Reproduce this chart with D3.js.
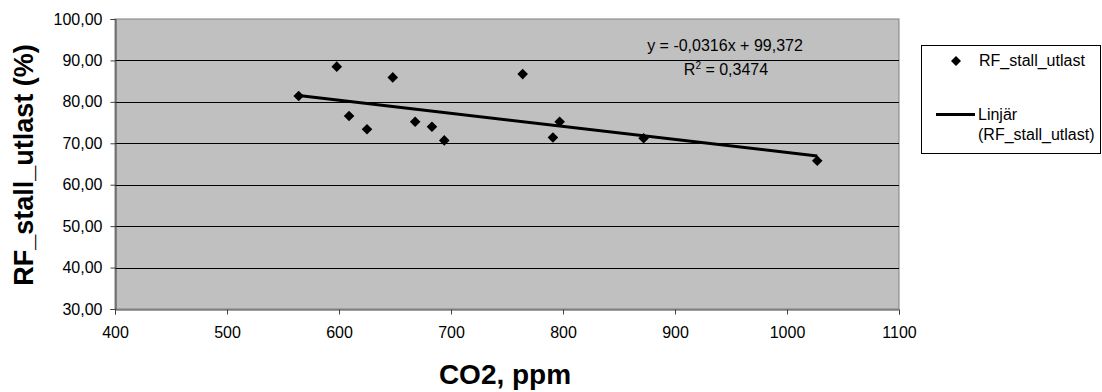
<!DOCTYPE html>
<html>
<head>
<meta charset="utf-8">
<script src="https://cdn.jsdelivr.net/npm/d3@7"></script>
<style>
  html, body { margin: 0; padding: 0; background: #fff; }
  svg { display: block; font-family: "Liberation Sans", Arial, sans-serif; }
</style>
</head>
<body>
<svg id="chart" width="1102" height="392"></svg>
<script>
// Data
const co2 = [564, 598, 609, 625, 648, 668, 683, 694, 764, 791, 797, 872, 1027];
const rf  = [81.4, 88.5, 76.6, 73.4, 85.9, 75.2, 74.0, 70.7, 86.7, 71.4, 75.2, 71.2, 65.8];
const xTicks = [400, 500, 600, 700, 800, 900, 1000, 1100];
const yTicks = [30, 40, 50, 60, 70, 80, 90, 100];
const trendSlope = -0.0316;
const trendIntercept = 99.372;
const eqText = "y = -0,0316x + 99,372";
const r2Value = "0,3474";
const seriesName = "RF_stall_utlast";
const trendName1 = "Linjär";
const trendName2 = "(RF_stall_utlast)";
const xTitle = "CO2, ppm";
const yTitle = "RF_stall_utlast (%)";

const svg = d3.select("#chart");
const L = 115, R = 899, T = 19, B = 309;

const x = d3.scaleLinear().domain([400, 1100]).range([L, R]);
const y = d3.scaleLinear().domain([30, 100]).range([B, T]);

// plot background
svg.append("rect").attr("x", L).attr("y", T).attr("width", R - L).attr("height", B - T)
  .attr("fill", "#c0c0c0").attr("stroke", "#808080").attr("stroke-width", 1);

// gridlines
svg.append("g").selectAll("line").data(yTicks.filter(d => d > 30 && d < 100)).join("line")
  .attr("x1", L).attr("x2", R)
  .attr("y1", d => Math.round(y(d)) + 0.5).attr("y2", d => Math.round(y(d)) + 0.5)
  .attr("stroke", "#000").attr("stroke-width", 1);

// axes
const fmt = d => d3.format(".2f")(d).replace(".", ",");
const yAxis = svg.append("g").attr("transform", `translate(${L + 0.5},0)`)
  .call(d3.axisLeft(y).tickValues(yTicks).tickFormat(fmt).tickSize(5).tickPadding(8));
const xAxis = svg.append("g").attr("transform", `translate(0,${B + 0.5})`)
  .call(d3.axisBottom(x).tickValues(xTicks).tickFormat(d3.format("d")).tickSize(5).tickPadding(12));
[yAxis, xAxis].forEach(a => {
  a.select(".domain").attr("stroke", "#404040");
  a.selectAll(".tick line").attr("stroke", "#404040");
  a.selectAll(".tick text").attr("fill", "#000").style("font-size", "16px")
    .style("font-family", '"Liberation Sans", Arial, sans-serif');
});

// trend line
const xMin = d3.min(co2), xMax = d3.max(co2);
svg.append("line")
  .attr("x1", x(xMin)).attr("y1", y(trendSlope * xMin + trendIntercept))
  .attr("x2", x(xMax)).attr("y2", y(trendSlope * xMax + trendIntercept))
  .attr("stroke", "#000").attr("stroke-width", 3);

// points
const diamond = (cx, cy, r) => `M${cx},${cy - r}L${cx + r},${cy}L${cx},${cy + r}L${cx - r},${cy}Z`;
svg.append("g").selectAll("path").data(co2.map((c, i) => [c, rf[i]])).join("path")
  .attr("d", d => diamond(x(d[0]), y(d[1]), 5.3))
  .attr("fill", "#000");

// equation
svg.append("text").attr("x", 725).attr("y", 51).attr("text-anchor", "middle")
  .style("font-size", "16px").text(eqText);
const r2 = svg.append("text").attr("x", 726).attr("y", 75).attr("text-anchor", "middle")
  .style("font-size", "16px");
r2.append("tspan").text("R");
r2.append("tspan").attr("dy", -6).style("font-size", "10px").text("2");
r2.append("tspan").attr("dy", 6).text(" = " + r2Value);

// axis titles
svg.append("text").attr("x", 505).attr("y", 384).attr("text-anchor", "middle")
  .style("font-size", "28px").style("font-weight", "bold").text(xTitle);
svg.append("text").attr("transform", "translate(33,165) rotate(-90)").attr("text-anchor", "middle")
  .style("font-size", "27px").style("font-weight", "bold").text(yTitle);

// legend
svg.append("rect").attr("x", 921.5).attr("y", 45.5).attr("width", 179).attr("height", 108)
  .attr("fill", "#fff").attr("stroke", "#000").attr("stroke-width", 1);
svg.append("path").attr("d", diamond(956, 61, 5)).attr("fill", "#000");
svg.append("text").attr("x", 979).attr("y", 66).style("font-size", "16px").text(seriesName);
svg.append("line").attr("x1", 936).attr("x2", 975).attr("y1", 114.5).attr("y2", 114.5)
  .attr("stroke", "#000").attr("stroke-width", 3);
svg.append("text").attr("x", 978).attr("y", 120).style("font-size", "16px").text(trendName1);
svg.append("text").attr("x", 978).attr("y", 140).style("font-size", "16px").text(trendName2);
</script>
</body>
</html>
